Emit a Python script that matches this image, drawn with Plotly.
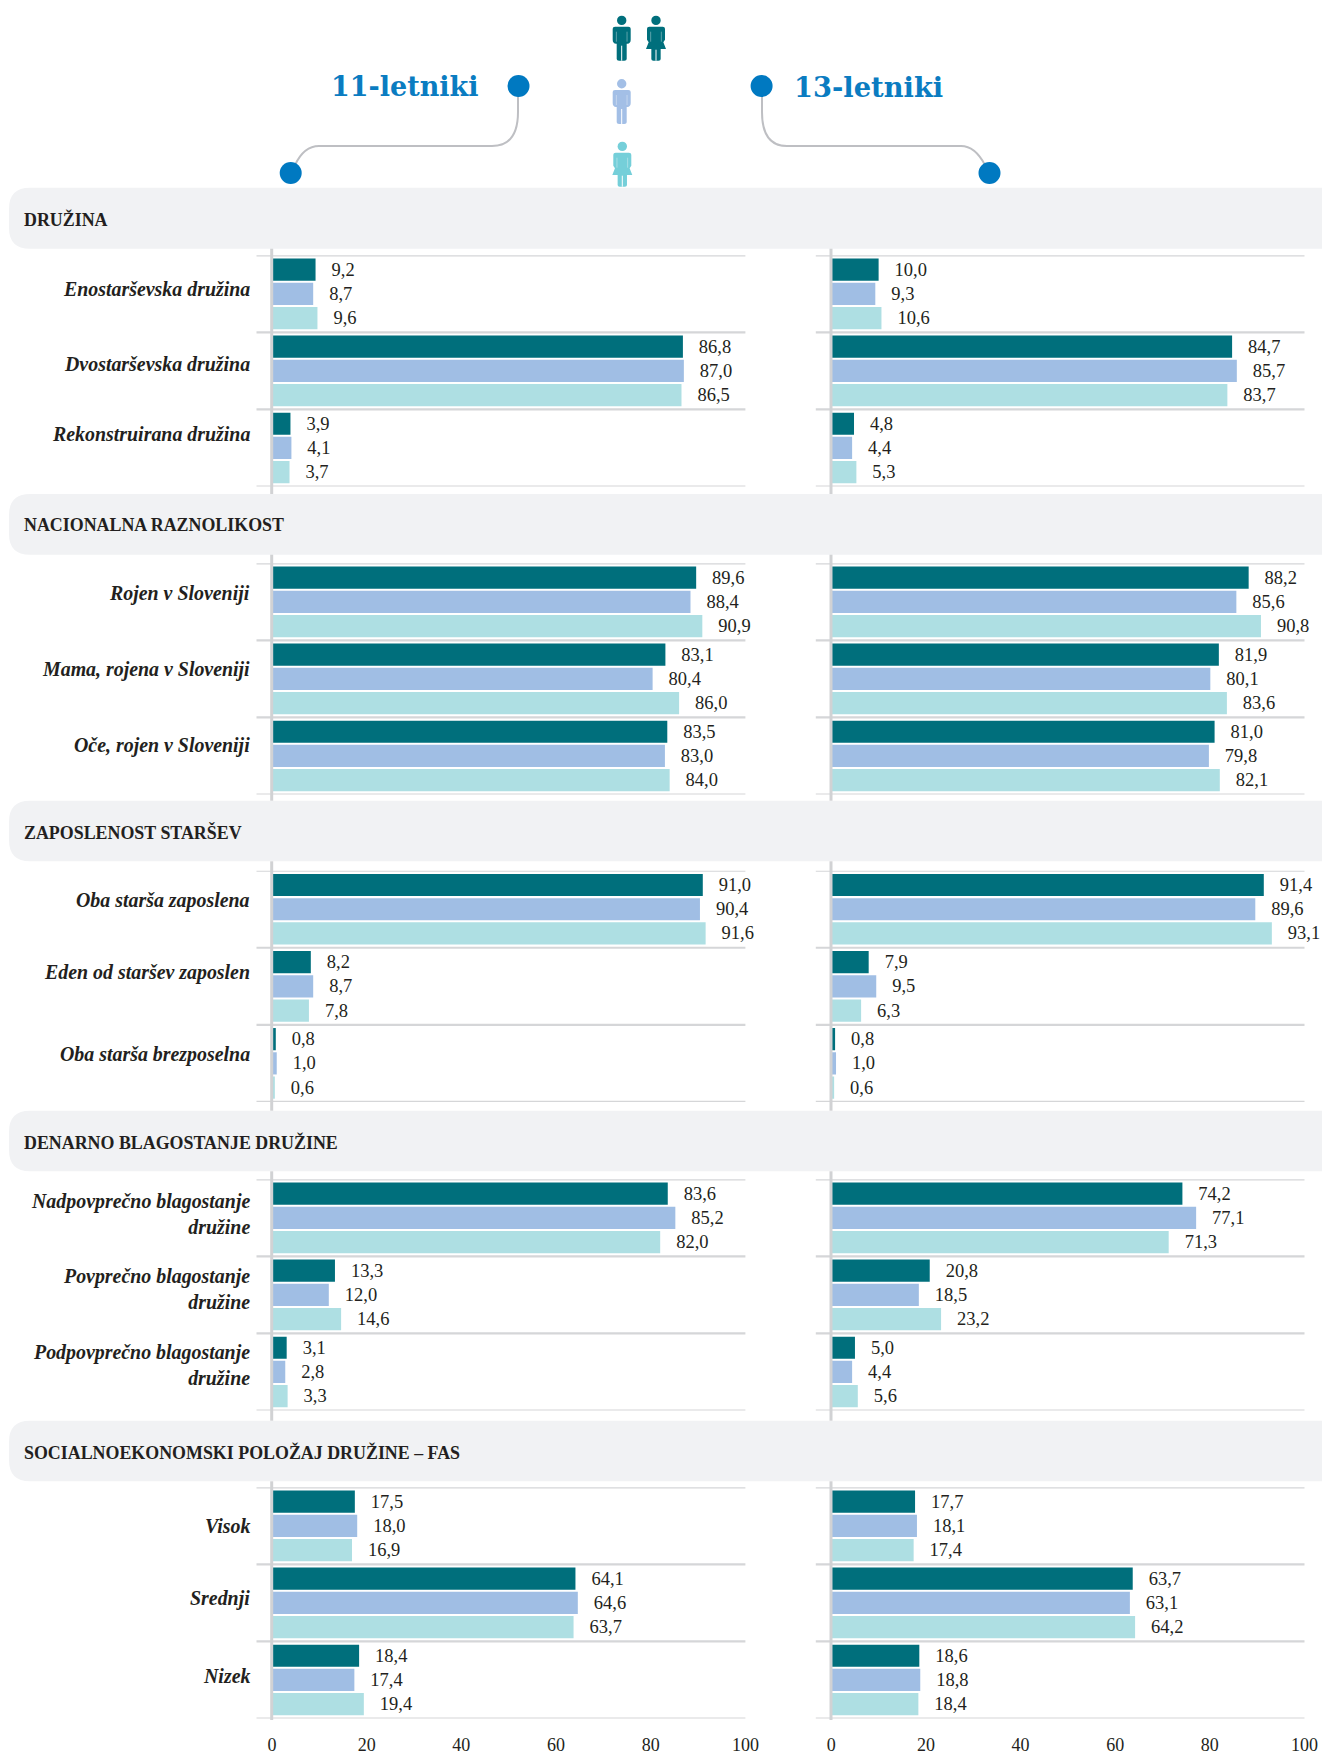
import plotly.graph_objects as go

W, H = 1322, 1755

section_titles = ["DRUŽINA", "NACIONALNA RAZNOLIKOST", "ZAPOSLENOST STARŠEV",
                  "DENARNO BLAGOSTANJE DRUŽINE", "SOCIALNOEKONOMSKI POLOŽAJ DRUŽINE – FAS"]
row_labels = [
    ["Enostarševska družina", "Dvostarševska družina", "Rekonstruirana družina"],
    ["Rojen v Sloveniji", "Mama, rojena v Sloveniji", "Oče, rojen v Sloveniji"],
    ["Oba starša zaposlena", "Eden od staršev zaposlen", "Oba starša brezposelna"],
    ["Nadpovprečno blagostanje<br>družine", "Povprečno blagostanje<br>družine", "Podpovprečno blagostanje<br>družine"],
    ["Visok", "Srednji", "Nizek"],
]
all_11 = [[9.2, 86.8, 3.9], [89.6, 83.1, 83.5], [91.0, 8.2, 0.8], [83.6, 13.3, 3.1], [17.5, 64.1, 18.4]]
boys_11 = [[8.7, 87.0, 4.1], [88.4, 80.4, 83.0], [90.4, 8.7, 1.0], [85.2, 12.0, 2.8], [18.0, 64.6, 17.4]]
girls_11 = [[9.6, 86.5, 3.7], [90.9, 86.0, 84.0], [91.6, 7.8, 0.6], [82.0, 14.6, 3.3], [16.9, 63.7, 19.4]]
all_13 = [[10.0, 84.7, 4.8], [88.2, 81.9, 81.0], [91.4, 7.9, 0.8], [74.2, 20.8, 5.0], [17.7, 63.7, 18.6]]
boys_13 = [[9.3, 85.7, 4.4], [85.6, 80.1, 79.8], [89.6, 9.5, 1.0], [77.1, 18.5, 4.4], [18.1, 63.1, 18.8]]
girls_13 = [[10.6, 83.7, 5.3], [90.8, 83.6, 82.1], [93.1, 6.3, 0.6], [71.3, 23.2, 5.6], [17.4, 64.2, 18.4]]
x_ticks = [0, 20, 40, 60, 80, 100]
age_titles = ["11-letniki", "13-letniki"]

# --- layout constants (pixels) ---
PANEL_X = [(272.0, 745.4), (831.3, 1304.5)]
SEC_TOP = [255.3, 563.3, 870.7, 1179.3, 1487.3]
SEC_H = 231.2
BAND = [(187.7, 248.7), (494, 554.7), (800.7, 861.3), (1110.7, 1171.3), (1420.7, 1481.3)]
LABEL_SHIFT = [[5, 7, 14], [8, 9, 10], [9, 14, 9], [3.5, 6, 7], [0, 4, 4]]
AXIS_END = [494, 800.7, 1110.7, 1420.7, 1720]
TEAL, BLUE, AQUA = "#006F7C", "#A0BEE4", "#AEDFE3"
GRID, AXIS = "#D5D6D8", "#D1D2D4"
INK = "#231F20"
SERIF = "Liberation Serif"


def px(x):
    return x / W


def py(y):
    return 1 - y / H


def path(cmds):
    out = []
    for c in cmds:
        if isinstance(c, str):
            out.append(c)
        else:
            out.append(f"{px(c[0]):.5f},{py(c[1]):.5f}")
    return " ".join(out)


fig = go.Figure()
shapes, annots = [], []

# bands
for (t, b) in BAND:
    r = 21
    x0 = 9
    shapes.append(dict(type="path", xref="paper", yref="paper", layer="below", line_width=0,
                       fillcolor="#F1F2F4",
                       path=path(["M", (W, t), "L", (x0 + r, t), "Q", (x0, t), (x0, t + r), "L", (x0, b - r),
                                  "Q", (x0, b), (x0 + r, b), "L", (W, b), "Z"])))

axis_i = 0
for s in range(5):
    for p, data in enumerate([(all_11, boys_11, girls_11), (all_13, boys_13, girls_13)]):
        axis_i += 1
        suffix = "" if axis_i == 1 else str(axis_i)
        xa, ya = f"x{suffix}", f"y{suffix}"
        x0, x1 = PANEL_X[p]
        top = SEC_TOP[s]
        cats = row_labels[s]
        for series, col in zip(data, (TEAL, BLUE, AQUA)):
            vals = series[s]
            fig.add_trace(go.Bar(
                x=vals, y=cats, orientation="h", xaxis=xa, yaxis=ya,
                marker=dict(color=col, line_width=0),
                text=["\u2002\u2009" + f"{v:.1f}".replace(".", ",") for v in vals],
                textposition="outside", textangle=0, constraintext="none", cliponaxis=False,
                textfont=dict(family=SERIF, size=18.5, color=INK), showlegend=False,
                hovertemplate="%{y}: %{x}<extra></extra>"))
        fig.update_layout({
            f"xaxis{suffix}": dict(
                domain=[px(x0), px(x1)], range=[0, 100], anchor=ya, tickvals=x_ticks,
                showticklabels=(s == 4), showgrid=False, zeroline=False, showline=False, ticks="",
                ticklabelstandoff=13, tickfont=dict(family=SERIF, size=18, color=INK)),
            f"yaxis{suffix}": dict(
                domain=[py(top + SEC_H), py(top)], type="category", categoryorder="array", categoryarray=cats,
                range=[2.5, -0.5], anchor=xa, showticklabels=False, showgrid=False, zeroline=False,
                showline=False, ticks=""),
        })
        # gridlines
        for g in (-0.5, 0.5, 1.5, 2.5):
            shapes.append(dict(type="line", xref=f"{xa} domain", yref=ya, x0=-15.5 / (x1 - x0), x1=1, y0=g, y1=g,
                               line=dict(color=GRID, width=2.2), layer="below"))
        # vertical axis, drawn over the bar bases
        shapes.append(dict(type="line", xref="paper", yref="paper", x0=px(x0 - 0.3), x1=px(x0 - 0.3),
                           y0=py(BAND[s][1]), y1=py(AXIS_END[s]),
                           line=dict(color=AXIS, width=3), layer="above"))
        if p == 0:
            for c, cat in enumerate(cats):
                annots.append(dict(text=f"<b><i>{cat}</i></b>", xref=f"{xa} domain", yref=ya, x=0, y=cat,
                                   xanchor="right", yanchor="middle", align="right", xshift=-20,
                                   yshift=LABEL_SHIFT[s][c], showarrow=False,
                                   font=dict(family=SERIF, size=19.9, color=INK)))

for s, t in enumerate(section_titles):
    annots.append(dict(text=f"<b>{t}</b>", xref="paper", yref="paper", x=px(22), y=py(sum(BAND[s]) / 2 + 1),
                       xanchor="left", yanchor="middle", showarrow=False,
                       font=dict(family=SERIF, size=17.9, color=INK)))

# age titles
annots.append(dict(text=f"<b>{age_titles[0]}</b>", xref="paper", yref="paper", x=px(480.5), y=py(86), xanchor="right",
                   yanchor="middle", showarrow=False, font=dict(family="DejaVu Serif", size=27, color="#0A7CC1")))
annots.append(dict(text=f"<b>{age_titles[1]}</b>", xref="paper", yref="paper", x=px(792), y=py(87), xanchor="left",
                   yanchor="middle", showarrow=False, font=dict(family="DejaVu Serif", size=27.3, color="#0A7CC1")))

# connectors and dots
conn = [
    ["M", (518, 86), "L", (518, 112), "Q", (518, 146), (492, 146), "L", (319, 146), "Q", (304, 146), (295, 165)],
    ["M", (762, 86), "L", (762, 112), "Q", (762, 146), (787, 146), "L", (961, 146), "Q", (975, 146), (985, 165)],
]
for c in conn:
    shapes.append(dict(type="path", xref="paper", yref="paper", path=path(c),
                       line=dict(color="#BEBFC3", width=2), fillcolor="rgba(0,0,0,0)"))
for cx, cy in [(518.5, 86), (290.7, 173), (761.6, 86), (989.5, 173)]:
    shapes.append(dict(type="circle", xref="paper", yref="paper", x0=px(cx - 11), x1=px(cx + 11),
                       y0=py(cy + 11), y1=py(cy - 11), fillcolor="#0079C1", line_width=0))


# pictograms
def person(cx, top, color, woman):
    u = lambda a, b: (cx + a / 3, top + b / 3)
    shapes.append(dict(type="circle", xref="paper", yref="paper", x0=px(cx - 4.7), x1=px(cx + 4.7),
                       y0=py(top + 9.4), y1=py(top), fillcolor=color, line_width=0))
    if woman:
        cmds = ["M", u(-27, 39), "Q", u(-27, 33), u(-20, 33), "L", u(20, 33), "Q", u(27, 33), u(27, 39),
                "L", u(27, 72), "L", u(22, 80), "L", u(30, 100), "L", u(14, 100), "L", u(14, 130),
                "Q", u(14, 135), u(8, 135), "L", u(-8, 135), "Q", u(-14, 135), u(-14, 130),
                "L", u(-14, 100), "L", u(-30, 100), "L", u(-22, 80), "L", u(-27, 72), "Z"]
    else:
        cmds = ["M", u(-27, 39), "Q", u(-27, 33), u(-20, 33), "L", u(20, 33), "Q", u(27, 33), u(27, 39),
                "L", u(27, 72), "Q", u(27, 83), u(17, 84), "L", u(15, 84), "L", u(15, 130),
                "Q", u(15, 135), u(8, 135), "L", u(-8, 135), "Q", u(-15, 135), u(-15, 130),
                "L", u(-15, 84), "L", u(-17, 84), "Q", u(-27, 83), u(-27, 72), "Z"]
    shapes.append(dict(type="path", xref="paper", yref="paper", path=path(cmds), fillcolor=color, line_width=0))
    y0 = 102 if woman else 90
    shapes.append(dict(type="line", xref="paper", yref="paper", x0=px(cx), x1=px(cx), y0=py(top + y0 / 3),
                       y1=py(top + 45), line=dict(color="white", width=1)))
    for side in (-16, 16):
        shapes.append(dict(type="line", xref="paper", yref="paper", x0=px(cx + side / 3), x1=px(cx + side / 3),
                           y0=py(top + 48 / 3), y1=py(top + 78 / 3), opacity=0.45,
                           line=dict(color="white", width=0.8)))


person(621.7, 15.7, "#006F7C", False)
person(656.0, 15.7, "#006F7C", True)
person(621.7, 79.0, "#A3BFE6", False)
person(622.3, 141.7, "#75CFD9", True)

fig.update_layout(
    width=W, height=H, margin=dict(l=0, r=0, t=0, b=0, autoexpand=False), autosize=False,
    paper_bgcolor="white", plot_bgcolor="rgba(0,0,0,0)",
    barmode="group", bargap=0.057, bargroupgap=0.083,
    shapes=shapes, annotations=annots, showlegend=False,
    font=dict(family=SERIF, color=INK),
)

fig.write_html("out.html", config={"displayModeBar": False},
               post_script="document.body.style.margin='0';document.documentElement.style.overflow='hidden';")
